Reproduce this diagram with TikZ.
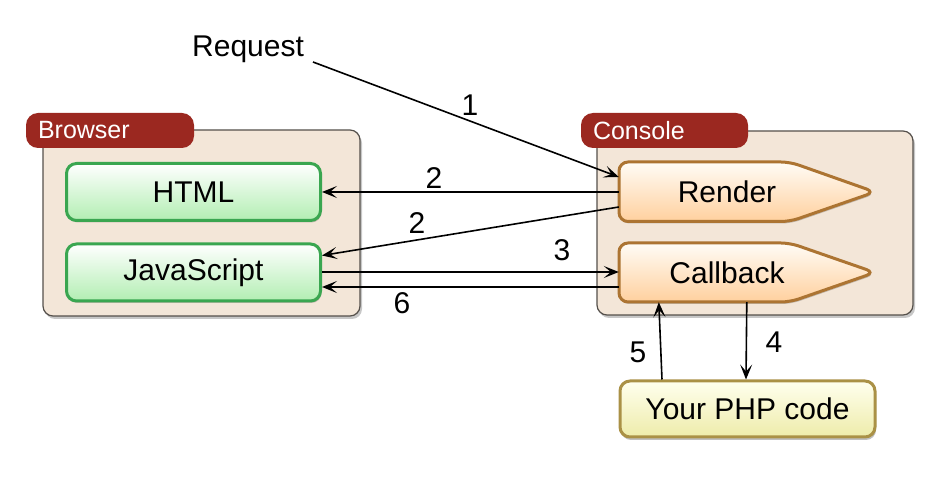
\documentclass[tikz,border=0pt]{standalone}
\usepackage{fontspec}
\setmainfont{Liberation Sans}
\usetikzlibrary{arrows.meta,shadows,calc}
\definecolor{contfill}{RGB}{243,230,216}
\definecolor{contdraw}{RGB}{85,80,75}
\definecolor{tabred}{RGB}{155,40,32}
\definecolor{grdraw}{RGB}{58,166,80}
\definecolor{grbot}{RGB}{178,238,178}
\definecolor{ordraw}{RGB}{172,116,50}
\definecolor{orbot}{RGB}{255,208,158}
\definecolor{ordtop}{RGB}{255,252,246}
\definecolor{yedraw}{RGB}{170,145,70}
\definecolor{yetop}{RGB}{255,255,238}
\definecolor{yebot}{RGB}{238,236,170}
\tikzset{
  container/.style={draw=contdraw, line width=1.2pt, fill=contfill, rounded corners=10pt,
    drop shadow={shadow xshift=2pt, shadow yshift=-3pt, opacity=0.22, fill=black}},
  tabbox/.style={fill=tabred, rounded corners=12pt, text=white, inner sep=0pt,
    font=\fontsize{25}{28}\selectfont, align=left},
  greenbox/.style={draw=grdraw, line width=3pt, rounded corners=10pt,
    top color=white, bottom color=grbot, minimum width=254pt, minimum height=57pt,
    inner sep=0pt, font=\fontsize{30}{34}\selectfont,
    drop shadow={shadow xshift=1pt, shadow yshift=-2pt, opacity=0.2, fill=black}},
  orangeshape/.style={draw=ordraw, line width=3pt, rounded corners=9pt,
    top color=ordtop, bottom color=orbot,
    drop shadow={shadow xshift=1pt, shadow yshift=-2pt, opacity=0.2, fill=black}},
  yellowbox/.style={draw=yedraw, line width=3pt, rounded corners=10pt,
    top color=yetop, bottom color=yebot, minimum width=255pt, minimum height=56pt,
    inner sep=0pt, font=\fontsize{30}{34}\selectfont,
    drop shadow={shadow xshift=1pt, shadow yshift=-3pt, opacity=0.25, fill=black}},
  anchorbox/.style={draw=none, inner sep=0pt, minimum width=171pt, minimum height=59pt},
  boxlabel/.style={font=\fontsize{30}{34}\selectfont, inner sep=0pt},
  numlabel/.style={font=\fontsize{30}{34}\selectfont, inner sep=0pt},
  conn/.style={line width=1.6pt, -{Stealth[length=15pt,width=12pt,inset=7pt]}},
}
\begin{document}
\begin{tikzpicture}[x=1pt,y=-1pt]
\useasboundingbox (0,0) rectangle (946,478);

% containers
\path[container] (43,130) rectangle (360,316);
\node[tabbox, minimum width=168pt, minimum height=35pt, text width=144pt] (browsertab) at (110,130.5) {Browser};
\path[container] (597,131) rectangle (913,315);
\node[tabbox, minimum width=167pt, minimum height=35pt, text width=143pt] (consoletab) at (664.5,130.5) {Console};

% browser boxes
\node[greenbox] (html) at (193.5,192) {HTML};
\node[greenbox] (js) at (193.5,272.5) {JavaScript};

% console shapes
\path[orangeshape] (619,192) -- (619,162) -- (790,162) -- (875,192) -- (790,221.5) -- (619,221.5) -- cycle;
\path[orangeshape] (619,272.5) -- (619,243) -- (790,243) -- (875,272.5) -- (790,302) -- (619,302) -- cycle;
\node[anchorbox] (render) at (704.5,192) {};
\node[anchorbox] (callback) at (704.5,272.5) {};
\node[boxlabel] (rendertxt) at (727,192) {Render};
\node[boxlabel] (callbacktxt) at (727,272.5) {Callback};

% php
\node[yellowbox] (php) at (747.5,409) {Your PHP code};

% request
\node[numlabel, anchor=base west] (request) at (192,57) {Request};
\coordinate (reqend) at (313,62);

% connectors
\draw[conn] (reqend) -- ($(render.west)+(0,-15)$);
\draw[conn] (render.west) -- (html.east);
\draw[conn] ($(render.west)+(0,15)$) -- ($(js.east)+(0,-17)$);
\draw[conn] ($(js.east)+(0,-0.5)$) -- ($(callback.west)+(0,-0.5)$);
\draw[conn] ($(callback.west)+(0,14.5)$) -- ($(js.east)+(0,14.5)$);
\draw[conn] ($(callback.south west)+(128,0)$) -- ($(php.north west)+(127.5,0)$);
\draw[conn] ($(php.north west)+(43.5,0)$) -- ($(callback.south west)+(40,0)$);

% labels
\node[numlabel] (l1) at (470,105) {1};
\node[numlabel] (l2a) at (434,178) {2};
\node[numlabel] (l2b) at (417,223) {2};
\node[numlabel] (l3) at (562,250) {3};
\node[numlabel] (l6) at (402,303) {6};
\node[numlabel] (l4) at (774,342) {4};
\node[numlabel] (l5) at (638,352) {5};
\end{tikzpicture}
\end{document}
